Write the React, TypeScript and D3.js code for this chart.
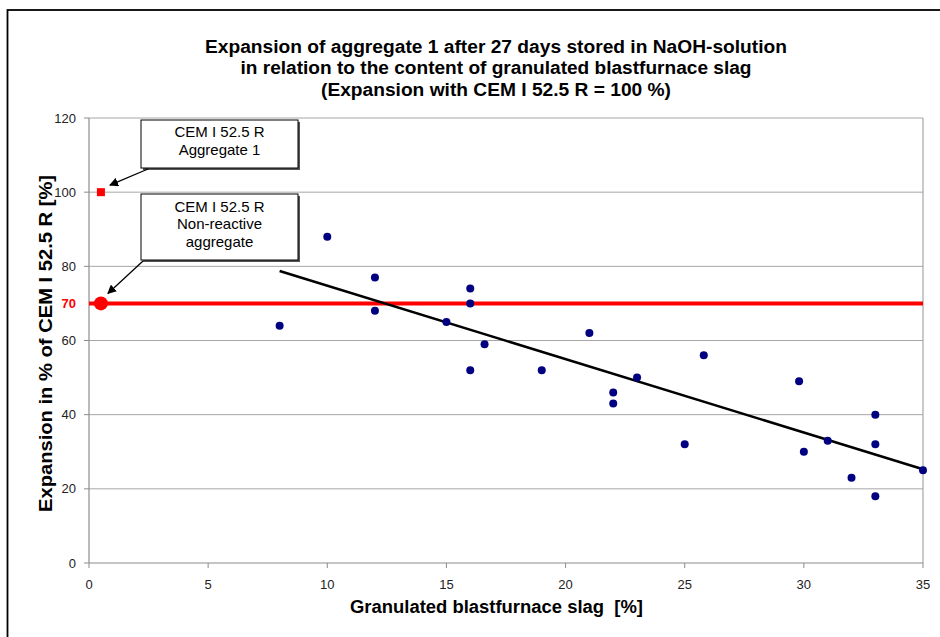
import React from "react";
import * as d3 from "d3";

const slag = [8, 10, 12, 12, 15, 16, 16, 16, 16.6, 19, 21, 22, 22, 23, 25, 25.8, 29.8, 30, 31, 32, 33, 33, 33, 35];
const expansion = [64, 88, 77, 68, 65, 74, 70, 52, 59, 52, 62, 46, 43, 50, 32, 56, 49, 30, 33, 23, 40, 32, 18, 25];

const refAggregate1 = { x: 0.5, y: 100 };
const refNonReactive = { x: 0.5, y: 70 };
const limitLine = 70;

const xTicks = [0, 5, 10, 15, 20, 25, 30, 35];
const yTicks = [0, 20, 40, 60, 80, 100, 120];

const titleLines = [
  "Expansion of aggregate 1 after 27 days stored in NaOH-solution",
  "in relation to the content of granulated blastfurnace slag",
  "(Expansion with CEM I 52.5 R = 100 %)",
];
const xLabel = "Granulated blastfurnace slag  [%]";
const yLabel = "Expansion in % of CEM I 52.5 R [%]";
const box1Lines = ["CEM I 52.5 R", "Aggregate 1"];
const box2Lines = ["CEM I 52.5 R", "Non-reactive", "aggregate"];

const W = 940;
const H = 637;
const left = 89;
const right = 923;
const top = 118;
const bottom = 563;

export default function App() {
  const x = d3.scaleLinear().domain([0, 35]).range([left, right]);
  const y = d3.scaleLinear().domain([0, 120]).range([bottom, top]);

  // Linear regression trendline (as in the spreadsheet)
  const mx = d3.mean(slag) as number;
  const my = d3.mean(expansion) as number;
  let sxy = 0;
  let sxx = 0;
  slag.forEach((v, i) => {
    sxy += (v - mx) * (expansion[i] - my);
    sxx += (v - mx) * (v - mx);
  });
  const slope = sxy / sxx;
  const icpt = my - slope * mx;
  const xMin = d3.min(slag) as number;
  const xMax = d3.max(slag) as number;
  const trend = d3.line<number>().x((d) => x(d)).y((d) => y(icpt + slope * d))([xMin, xMax]) as string;

  const font = "'Liberation Sans', Arial, sans-serif";
  const gridColor = "#a6a6a6";
  const axisColor = "#8c8c8c";

  const a1 = { x: x(refAggregate1.x), y: y(refAggregate1.y) };
  const a2 = { x: x(refNonReactive.x), y: y(refNonReactive.y) };

  const titleWidths = [582, 511, 350];
  const titleBase = [52.5, 74, 95.5];

  const box = (bx: number, by: number, bw: number, bh: number, lines: string[], firstBase: number) => (
    <g>
      <rect x={bx + 2} y={by + 2} width={bw} height={bh} fill="#555" />
      <rect x={bx} y={by} width={bw} height={bh} fill="#fff" stroke="#000" strokeWidth={1} />
      {lines.map((l, i) => (
        <text key={i} x={bx + bw / 2} y={firstBase + i * 17.5} textAnchor="middle" fontSize={15} fontFamily={font} fill="#000">
          {l}
        </text>
      ))}
    </g>
  );

  return (
    <div style={{ position: "absolute", left: 0, top: 0 }}>
      <svg width={W} height={H} style={{ display: "block", background: "#fff" }}>
        <defs>
          <marker id="arr" viewBox="0 0 10 10" refX="9" refY="5" markerWidth="9" markerHeight="9" orient="auto" markerUnits="userSpaceOnUse">
            <path d="M0,0 L10,5 L0,10 z" fill="#000" />
          </marker>
        </defs>
        <rect x={7.5} y={10} width={W} height={H} fill="#fff" stroke="#000" strokeWidth={1.8} />

        {titleLines.map((t, i) => (
          <text
            key={i}
            x={496}
            y={titleBase[i]}
            textAnchor="middle"
            fontSize={18}
            fontWeight="bold"
            fontFamily={font}
            fill="#000"
            textLength={titleWidths[i]}
            lengthAdjust="spacingAndGlyphs"
          >
            {t}
          </text>
        ))}

        {/* gridlines */}
        {yTicks.filter((t) => t > 0).map((t) => (
          <line key={t} x1={left} x2={right} y1={y(t)} y2={y(t)} stroke={gridColor} strokeWidth={1} />
        ))}
        <line x1={right} x2={right} y1={top} y2={bottom} stroke={gridColor} strokeWidth={1.2} />

        {/* axes */}
        <line x1={left} x2={left} y1={top} y2={bottom} stroke={axisColor} strokeWidth={1.2} />
        <line x1={left} x2={right} y1={bottom} y2={bottom} stroke={axisColor} strokeWidth={1.2} />
        {yTicks.map((t) => (
          <g key={t}>
            <line x1={left - 5} x2={left} y1={y(t)} y2={y(t)} stroke={axisColor} strokeWidth={1} />
            <text x={76} y={y(t) + 4.5} textAnchor="end" fontSize={13} fontFamily={font} fill="#222">
              {t}
            </text>
          </g>
        ))}
        <text x={76} y={y(limitLine) + 4.5} textAnchor="end" fontSize={13} fontWeight="bold" fontFamily={font} fill="#ff0000">
          {limitLine}
        </text>
        {xTicks.map((t) => (
          <g key={t}>
            <line x1={x(t)} x2={x(t)} y1={bottom} y2={bottom + 5} stroke={axisColor} strokeWidth={1} />
            <text x={x(t)} y={589} textAnchor="middle" fontSize={13} fontFamily={font} fill="#222">
              {t}
            </text>
          </g>
        ))}

        {/* axis titles */}
        <text
          x={496.5}
          y={613}
          textAnchor="middle"
          fontSize={18}
          fontWeight="bold"
          fontFamily={font}
          fill="#000"
          style={{ whiteSpace: "pre" }}
          textLength={293}
          lengthAdjust="spacingAndGlyphs"
        >
          {xLabel}
        </text>
        <text
          transform={`translate(52,343.5) rotate(-90)`}
          textAnchor="middle"
          fontSize={18.5}
          fontWeight="bold"
          fontFamily={font}
          fill="#000"
          textLength={337}
          lengthAdjust="spacingAndGlyphs"
        >
          {yLabel}
        </text>

        {/* red limit line */}
        <line x1={left} x2={right} y1={y(limitLine)} y2={y(limitLine)} stroke="#ff0000" strokeWidth={4} />

        {/* trendline */}
        <path d={trend} fill="none" stroke="#000" strokeWidth={2.5} />

        {/* data points */}
        {slag.map((v, i) => (
          <circle key={i} cx={x(v)} cy={y(expansion[i])} r={4} fill="#000080" />
        ))}

        {/* reference markers */}
        <rect x={a1.x - 4} y={a1.y - 4} width={8} height={8} fill="#ff0000" />
        <circle cx={a2.x} cy={a2.y} r={7} fill="#ff0000" />

        {/* annotations */}
        {box(141, 120, 157, 48, box1Lines, 137)}
        {box(141, 194, 157, 66, box2Lines, 211.5)}
        <line x1={148} y1={169} x2={a1.x + 9} y2={a1.y - 7} stroke="#000" strokeWidth={1.3} markerEnd="url(#arr)" />
        <line x1={143} y1={261} x2={a2.x + 7} y2={a2.y - 10} stroke="#000" strokeWidth={1.3} markerEnd="url(#arr)" />
      </svg>
    </div>
  );
}
